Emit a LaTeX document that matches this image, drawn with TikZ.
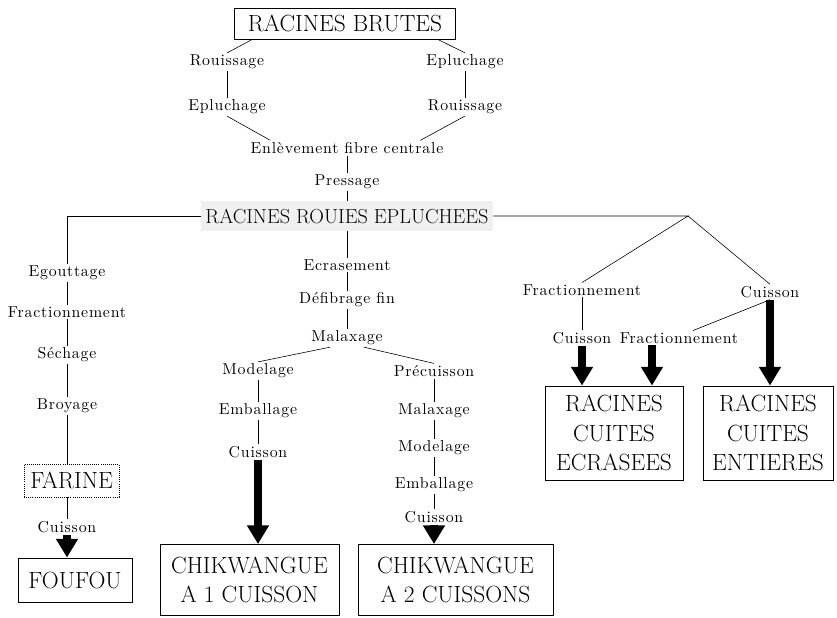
\documentclass[tikz,border=0pt]{standalone}
\usepackage{fontspec}
\newfontfamily\stagefont{lmroman10-regular.otf}[LetterSpace=5]
\usetikzlibrary{arrows.meta}
\begin{document}
\begin{tikzpicture}[x=0.03cm, y=-0.03cm,
	stage/.style={inner sep=1.5pt, font=\stagefont\fontsize{13.5}{15}\selectfont},
	product/.style={draw, line width=0.8pt, align=center, inner sep=2pt, font=\fontsize{20}{25}\selectfont},
	link/.style={line width=0.5pt},
	heavy/.style={line width=6.5pt, -{Triangle[length=16pt,width=18pt]}}]
	\useasboundingbox (0,0) rectangle (837,618);

	\node[product, minimum width=6.63cm, minimum height=0.93cm] (brutes) at (345,23.5) {RACINES BRUTES};
	\node[stage] (rouiA) at (227,62) {Rouissage};
	\node[stage] (eplA) at (465,62) {Epluchage};
	\node[stage] (eplB) at (227,107) {Epluchage};
	\node[stage] (rouiB) at (465,107) {Rouissage};
	\node[stage] (enlev) at (347,148) {Enlèvement fibre centrale};
	\node[stage] (press) at (347,182) {Pressage};
	\node[product, draw=none, fill=black!6, font=\fontsize{17.3}{20}\selectfont, minimum width=8.76cm, minimum height=0.9cm] (rre) at (347,216) {RACINES ROUIES EPLUCHEES};

	\node[stage] (egout) at (67,273) {Egouttage};
	\node[stage] (fracA) at (67,312) {Fractionnement};
	\node[stage] (sech) at (67,355) {Séchage};
	\node[stage] (broy) at (67,406) {Broyage};
	\node[product, densely dotted, minimum width=2.85cm, minimum height=0.99cm] (farine) at (71.5,480.5) {FARINE};
	\node[stage] (cuisF) at (67,527) {Cuisson};
	\node[product, minimum width=3.42cm, minimum height=1.32cm] (foufou) at (75,580) {FOUFOU};

	\node[stage] (ecr) at (347,265) {Ecrasement};
	\node[stage] (defib) at (347,300) {Défibrage fin};
	\node[stage] (malA) at (347,338) {Malaxage};
	\node[stage] (modA) at (258,371) {Modelage};
	\node[stage] (embA) at (258,411) {Emballage};
	\node[stage] (cuisA) at (258,452) {Cuisson};
	\node[stage] (precu) at (434,371) {Précuisson};
	\node[stage] (malB) at (434,411) {Malaxage};
	\node[stage] (modB) at (434,448) {Modelage};
	\node[stage] (embB) at (434,485) {Emballage};
	\node[stage] (cuisB) at (434,517) {Cuisson};
	\node[product, minimum width=5.37cm, minimum height=2.13cm] (chik1) at (249.5,580) {CHIKWANGUE\\A 1 CUISSON};
	\node[product, minimum width=5.85cm, minimum height=2.13cm] (chik2) at (455.5,580) {CHIKWANGUE\\A 2 CUISSONS};

	\coordinate (split) at (688,216);
	\node[stage] (fracR) at (582,290) {Fractionnement};
	\node[stage] (cuisR) at (770,292) {Cuisson};
	\node[stage] (cuisE) at (582,338) {Cuisson};
	\node[stage] (fracE) at (679,338) {Fractionnement};
	\node[product, minimum width=4.14cm, minimum height=2.82cm] (ecras) at (614,433) {RACINES\\CUITES\\ECRASEES};
	\node[product, minimum width=3.9cm, minimum height=2.82cm] (entier) at (768,433) {RACINES\\CUITES\\ENTIERES};

	\draw[link] ([xshift=0.54cm]brutes.south west) -- (rouiA.north);
	\draw[link] ([xshift=-0.54cm]brutes.south east) -- (eplA.north);
	\draw[link] (rouiA) -- (eplB);
	\draw[link] (eplA) -- (rouiB);
	\draw[link] (eplB.south) -- ([xshift=-2.3cm]enlev.north);
	\draw[link] (rouiB.south) -- ([xshift=2.2cm]enlev.north);
	\draw[link] (enlev) -- (press) -- (rre);

	\draw[link] (rre.west) -| (egout.north);
	\draw[link] (egout) -- (fracA) -- (sech) -- (broy) -- (broy |- farine.north);
	\draw[link] (farine.south -| cuisF) -- (cuisF);
	\draw[heavy] (cuisF.south) -- (cuisF.south |- foufou.north);

	\draw[link] (rre) -- (ecr) -- (defib) -- (malA);
	\draw[link] ([xshift=-0.5cm]malA.south) -- (modA.north);
	\draw[link] ([xshift=0.5cm]malA.south) -- (precu.north);
	\draw[link] (modA) -- (embA) -- (cuisA);
	\draw[heavy] (cuisA.south) -- (cuisA.south |- chik1.north);
	\draw[link] (precu) -- (malB) -- (modB) -- (embB) -- (cuisB);
	\draw[heavy] (cuisB.south) -- (cuisB.south |- chik2.north);

	\draw[link] (rre.east) -- (split) -- (fracR.north);
	\draw[link] (split) -- (cuisR.north);
	\draw[link] (fracR) -- (cuisE);
	\draw[link] (cuisR.south) -- ([xshift=0.42cm]fracE.north);
	\coordinate (fe) at ([xshift=-0.81cm]fracE.south);
	\draw[heavy] (cuisE.south) -- (cuisE.south |- ecras.north);
	\draw[heavy] (fe) -- (fe |- ecras.north);
	\draw[heavy] (cuisR.south) -- (cuisR.south |- entier.north);
\end{tikzpicture}
\end{document}
